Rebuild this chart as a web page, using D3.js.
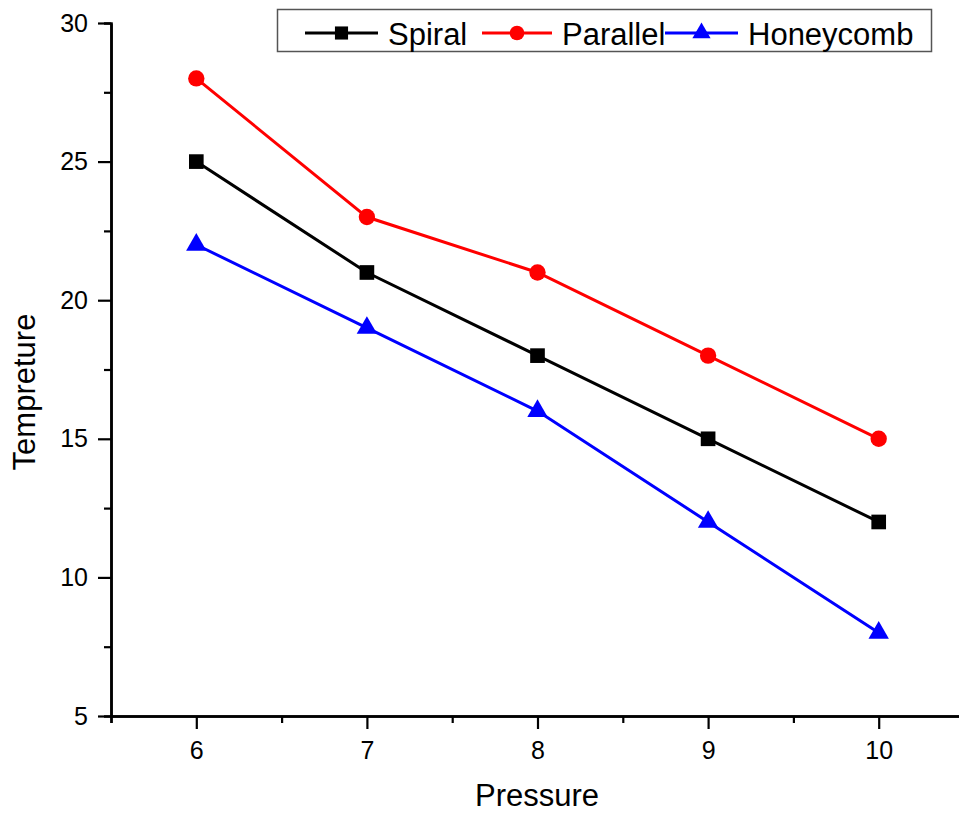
<!DOCTYPE html>
<html>
<head>
<meta charset="utf-8">
<script src="https://cdn.jsdelivr.net/npm/d3@7"></script>
<style>
  html, body { margin: 0; padding: 0; background: #fff; }
  svg { display: block; font-family: "Liberation Sans", Arial, sans-serif; }
</style>
</head>
<body>
<div id="chart"></div>
<script>
// --- Data ---
const pressure = [6, 7, 8, 9, 10];
const spiral = [25, 21, 18, 15, 12];
const parallel = [28, 23, 21, 18, 15];
const honeycomb = [22, 19, 16, 12, 8];

const xTicks = [6, 7, 8, 9, 10];
const yTicks = [5, 10, 15, 20, 25, 30];

const series = [
  { name: "Spiral", values: spiral, color: "#000000", symbol: d3.symbolSquare, size: 215 },
  { name: "Parallel", values: parallel, color: "#ff0000", symbol: d3.symbolCircle, size: 210 },
  { name: "Honeycomb", values: honeycomb, color: "#0000ff", symbol: d3.symbolTriangle, size: 180 }
];

// --- Layout ---
const W = 959, H = 814;
const plot = { left: 111, right: 964, top: 23, bottom: 716 };

const svg = d3.select("#chart").append("svg")
  .attr("width", W)
  .attr("height", H);

svg.append("rect").attr("width", W).attr("height", H).attr("fill", "#fff");

const x = d3.scaleLinear().domain([5.5, 10.5]).range([plot.left, plot.right]);
const y = d3.scaleLinear().domain([5, 30]).range([plot.bottom, plot.top]);

// --- Axes (major + minor ticks) ---
function styleAxis(g) {
  g.attr("font-size", 25).attr("font-family", null);
  g.select(".domain").attr("stroke", "#000").attr("stroke-width", 2.5);
  g.selectAll(".tick line").attr("stroke", "#000").attr("stroke-width", 2.2);
  g.selectAll(".tick text").attr("fill", "#000").attr("font-size", 25);
}

// minor ticks first
svg.append("g")
  .attr("transform", `translate(0,${plot.bottom})`)
  .call(d3.axisBottom(x).tickValues([5.5, 6.5, 7.5, 8.5, 9.5, 10.5]).tickSize(7).tickFormat(""))
  .call(styleAxis);
svg.append("g")
  .attr("transform", `translate(${plot.left},0)`)
  .call(d3.axisLeft(y).tickValues([7.5, 12.5, 17.5, 22.5, 27.5]).tickSize(7).tickFormat(""))
  .call(styleAxis);

svg.append("g")
  .attr("transform", `translate(0,${plot.bottom})`)
  .call(d3.axisBottom(x).tickValues(xTicks).tickSize(13).tickSizeOuter(0).tickPadding(12).tickFormat(d3.format("d")))
  .call(styleAxis);

svg.append("g")
  .attr("transform", `translate(${plot.left},0)`)
  .call(d3.axisLeft(y).tickValues(yTicks).tickSize(13).tickSizeOuter(0).tickPadding(10).tickFormat(d3.format("d")))
  .call(styleAxis);

// --- Axis titles ---
svg.append("text")
  .attr("x", 537)
  .attr("y", 806)
  .attr("text-anchor", "middle")
  .attr("font-size", 31)
  .text("Pressure");

svg.append("text")
  .attr("transform", "translate(35,392) rotate(-90)")
  .attr("text-anchor", "middle")
  .attr("font-size", 31)
  .text("Tempreture");

// --- Lines & markers ---
const line = d3.line()
  .x((d, i) => x(pressure[i]))
  .y(d => y(d));

series.forEach(s => {
  svg.append("path")
    .datum(s.values)
    .attr("fill", "none")
    .attr("stroke", s.color)
    .attr("stroke-width", 3)
    .attr("d", line);

  svg.append("g")
    .selectAll("path")
    .data(s.values)
    .enter().append("path")
    .attr("transform", (d, i) => `translate(${x(pressure[i])},${y(d)})`)
    .attr("d", d3.symbol().type(s.symbol).size(s.size))
    .attr("fill", s.color);
});

// --- Legend ---
const legend = svg.append("g");
legend.append("rect")
  .attr("x", 277.5).attr("y", 9.5)
  .attr("width", 654).attr("height", 42)
  .attr("fill", "#fff")
  .attr("stroke", "#555")
  .attr("stroke-width", 1.5);

const legendLineX = [305, 482, 665];
const legendTextX = [388, 562, 748];
const legendY = 33;

series.forEach((s, i) => {
  const x0 = legendLineX[i], x1 = legendTextX[i] - 10;
  legend.append("line")
    .attr("x1", x0).attr("x2", x1)
    .attr("y1", legendY).attr("y2", legendY)
    .attr("stroke", s.color).attr("stroke-width", 3);
  legend.append("path")
    .attr("transform", `translate(${(x0 + x1) / 2},${legendY})`)
    .attr("d", d3.symbol().type(s.symbol).size(s.size * 0.8))
    .attr("fill", s.color);
  legend.append("text")
    .attr("x", legendTextX[i])
    .attr("y", 45)
    .attr("font-size", 31)
    .text(s.name);
});
</script>
</body>
</html>
